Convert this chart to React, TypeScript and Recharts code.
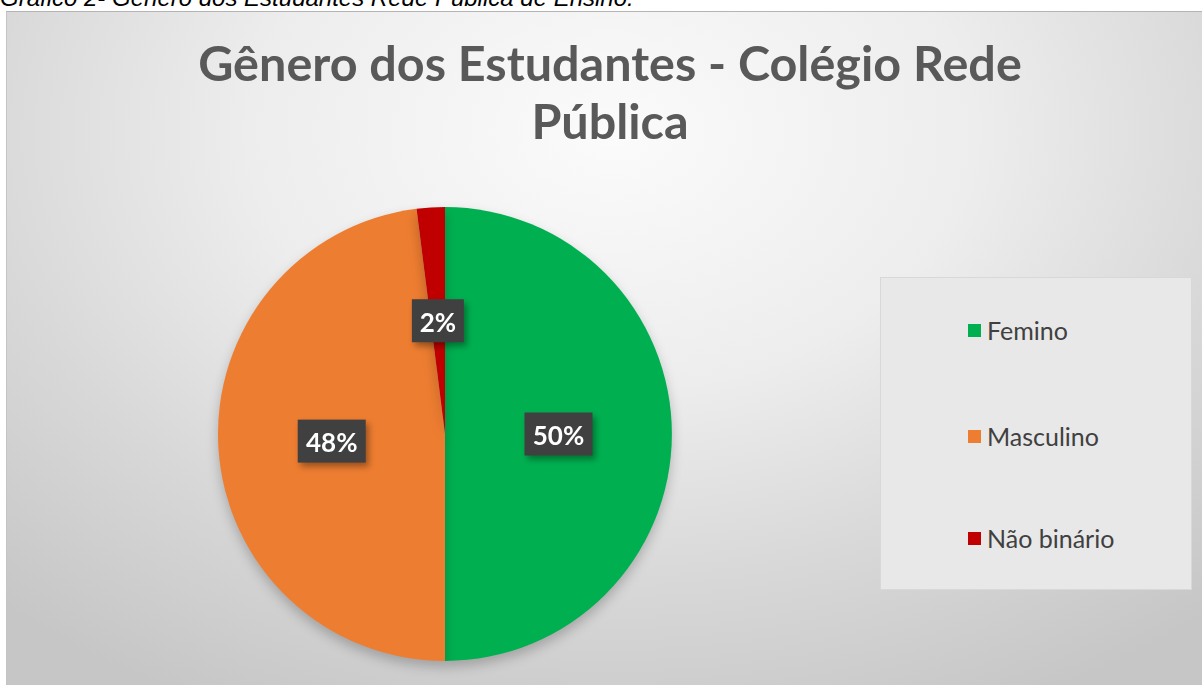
import { PieChart, Pie, Cell, Legend } from 'recharts';

const categories = ['Femino', 'Masculino', 'Não binário'];
const percentages = [50, 48, 2];
const COLORS = ['#00B050', '#ED7D31', '#C00000'];

const chartTitle = ['Gênero dos Estudantes - Colégio Rede', 'Pública'];
const caption = 'Gráfico 2- Gênero dos Estudantes Rede Pública de Ensino.';

const data = categories.map((name, i) => ({ name, value: percentages[i] }));

const RADIAN = Math.PI / 180;

const renderLabel = (props: any) => {
  const { cx, cy, midAngle, outerRadius, percent } = props;
  const r = outerRadius * 0.5;
  const x = cx + r * Math.cos(-midAngle * RADIAN);
  const y = cy + r * Math.sin(-midAngle * RADIAN);
  const text = `${Math.round(percent * 100)}%`;
  const w = text.length > 2 ? 68 : 52;
  const h = 43;
  return (
    <g style={{ filter: 'drop-shadow(3px 4px 3px rgba(0,0,0,0.35))' }}>
      <rect x={x - w / 2} y={y - h / 2} width={w} height={h} fill="#404040" />
      <text
        x={x}
        y={y + 1}
        textAnchor="middle"
        dominantBaseline="central"
        fill="#ffffff"
        fontFamily="Lato, 'Open Sans', sans-serif"
        fontWeight={700}
        fontSize={26}
      >
        {text}
      </text>
    </g>
  );
};

const renderLegend = (props: any) => {
  const { payload } = props;
  const rows = [52, 158, 260];
  return (
    <div
      style={{
        position: 'relative',
        width: 312,
        height: 313,
        background: '#e8e8e8',
        border: '1px solid #d8d8d8',
        boxSizing: 'border-box',
      }}
    >
      {(payload || []).map((entry: any, i: number) => (
        <div
          key={`leg-${i}`}
          style={{
            position: 'absolute',
            left: 87,
            top: rows[i] - 15,
            height: 30,
            display: 'flex',
            alignItems: 'center',
            fontFamily: "Lato, 'Open Sans', sans-serif",
            fontSize: 25,
            color: '#404040',
            whiteSpace: 'nowrap',
          }}
        >
          <span
            style={{
              display: 'inline-block',
              width: 13,
              height: 13,
              background: entry.color,
              marginRight: 6,
            }}
          />
          {entry.value}
        </div>
      ))}
    </div>
  );
};

export default function App() {
  return (
    <div
      style={{
        position: 'absolute',
        left: 0,
        top: 0,
        width: 1202,
        height: 686,
        overflow: 'hidden',
        background: '#ffffff',
      }}
    >
      <div
        style={{
          position: 'absolute',
          left: 0,
          top: -14,
          fontFamily: "'Liberation Sans', Arial, sans-serif",
          fontStyle: 'italic',
          fontSize: 24,
          lineHeight: '24px',
          color: '#000',
          whiteSpace: 'nowrap',
        }}
      >
        {caption}
      </div>
      <div
        style={{
          position: 'absolute',
          left: 6,
          top: 11,
          width: 1210,
          height: 673,
          borderTop: '1px solid #b4b4b4',
          borderLeft: '1px solid #c4c4c4',
          background:
            'radial-gradient(ellipse 75% 95% at 50% 18%, #fbfbfb 0%, #ededed 40%, #d8d8d8 70%, #c6c6c6 100%)',
        }}
      />
      <div
        style={{
          position: 'absolute',
          left: 0,
          top: 33,
          width: 1220,
          textAlign: 'center',
          fontFamily: "Lato, 'Open Sans', sans-serif",
          fontWeight: 700,
          fontSize: 48.5,
          lineHeight: '58px',
          color: '#595959',
        }}
      >
        {chartTitle.map((t, i) => (
          <div key={`t-${i}`}>{t}</div>
        ))}
      </div>
      <div style={{ position: 'absolute', left: 0, top: 0 }}>
        <PieChart width={1202} height={686}>
          <Pie
            data={data}
            dataKey="value"
            nameKey="name"
            cx={440}
            cy={429}
            outerRadius={227}
            startAngle={90}
            endAngle={-270}
            stroke="none"
            labelLine={false}
            label={renderLabel}
            isAnimationActive={false}
            style={{ filter: 'drop-shadow(0px 6px 6px rgba(0,0,0,0.22))' }}
          >
            {data.map((entry, index) => (
              <Cell key={`cell-${index}`} fill={COLORS[index % COLORS.length]} />
            ))}
          </Pie>
          <Legend
            content={renderLegend}
            wrapperStyle={{ position: 'absolute', left: 880, top: 277, width: 312, height: 313 }}
          />
        </PieChart>
      </div>
    </div>
  );
}
